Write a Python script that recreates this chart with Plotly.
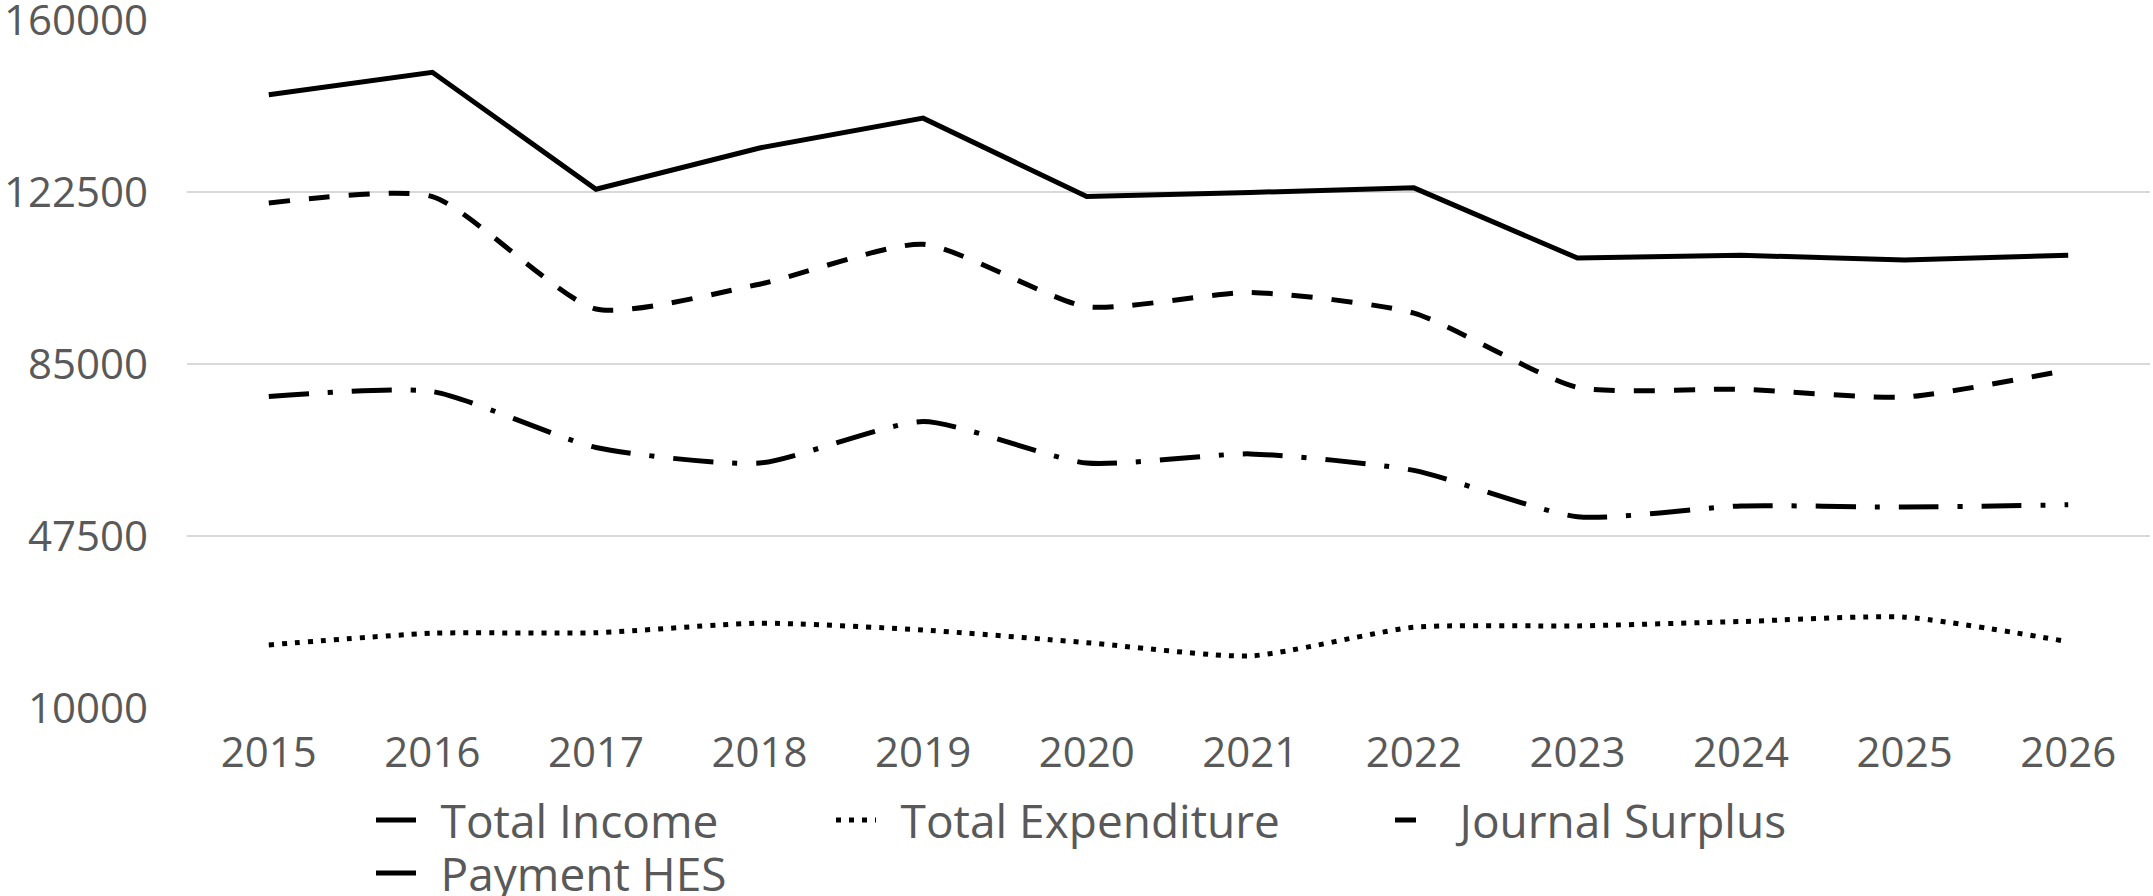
import plotly.graph_objects as go

years = ["2015", "2016", "2017", "2018", "2019", "2020", "2021", "2022", "2023", "2024", "2025", "2026"]
total_income = [143700, 148600, 123100, 132100, 138600, 121500, 122400, 123400, 108100, 108700, 107700, 108700]
total_expenditure = [23750, 26300, 26400, 28500, 27000, 24250, 21350, 27600, 27900, 28850, 29800, 24450]
journal_surplus = [120100, 121500, 97000, 102400, 111100, 97500, 100600, 96100, 79900, 79500, 77800, 83700]
payment_hes = [77900, 79000, 66800, 63400, 72450, 63400, 65400, 61800, 51700, 54050, 53800, 54300]
y_ticks = [10000, 47500, 85000, 122500, 160000]

W, H = 2153, 896
FONT = "Open Sans"
GREY = "#595959"
SMOOTH = 0.6
PAD = "\u00a0\u2009"

fig = go.Figure()
fig.add_trace(go.Scatter(x=years, y=total_income, name=PAD + "Total Income", mode="lines",
                         line=dict(color="black", width=5), legend="legend"))
fig.add_trace(go.Scatter(x=years, y=total_expenditure, name=PAD + "Total Expenditure", mode="lines",
                         line=dict(color="black", width=5, dash="5px,8px", shape="spline", smoothing=SMOOTH),
                         legend="legend2"))
fig.add_trace(go.Scatter(x=years, y=journal_surplus, name=PAD + "Journal Surplus", mode="lines",
                         line=dict(color="black", width=5, dash="21px,19px", shape="spline", smoothing=SMOOTH),
                         legend="legend3"))
fig.add_trace(go.Scatter(x=years, y=payment_hes, name=PAD + "Payment HES", mode="lines",
                         line=dict(color="black", width=5, dash="40px,19px,5px,19px", shape="spline", smoothing=SMOOTH),
                         legend="legend4"))

def leg(xpx, ypx):
    return dict(x=xpx / W, y=1 - ypx / H, xref="container", yref="container",
                xanchor="left", yanchor="middle", orientation="h",
                font=dict(family=FONT, size=46, color=GREY), bgcolor="rgba(0,0,0,0)",
                itemwidth=40)

plot_l, plot_r, plot_t, plot_b = 187, 2150, 20, 708

fig.update_layout(
    width=W, height=H, autosize=False,
    paper_bgcolor="white", plot_bgcolor="white",
    margin=dict(l=plot_l, r=W - plot_r, t=plot_t, b=H - plot_b, pad=0, autoexpand=False),
    font=dict(family=FONT, size=42, color=GREY),
    showlegend=True,
    legend=leg(371, 820),
    legend2=leg(831, 820),
    legend3=leg(1390, 820),
    legend4=leg(371, 873),
    xaxis=dict(type="category", range=[-0.5, 11.5], showgrid=False, showline=False,
               zeroline=False, ticks="", tickfont=dict(family=FONT, size=42, color=GREY),
               ticklabelstandoff=16, automargin=False),
    yaxis=dict(range=[10000, 160000], tickvals=y_ticks, ticktext=[str(v) for v in y_ticks],
               showgrid=True, gridcolor="#d9d9d9", gridwidth=2, zeroline=False, showline=False,
               ticks="", tickfont=dict(family=FONT, size=42, color=GREY), ticklabelstandoff=38,
               ticklabeloverflow="allow", automargin=False),
)

fig.write_html("out.html", config={"displayModeBar": False},
               post_script="document.body.style.margin='0px';")
